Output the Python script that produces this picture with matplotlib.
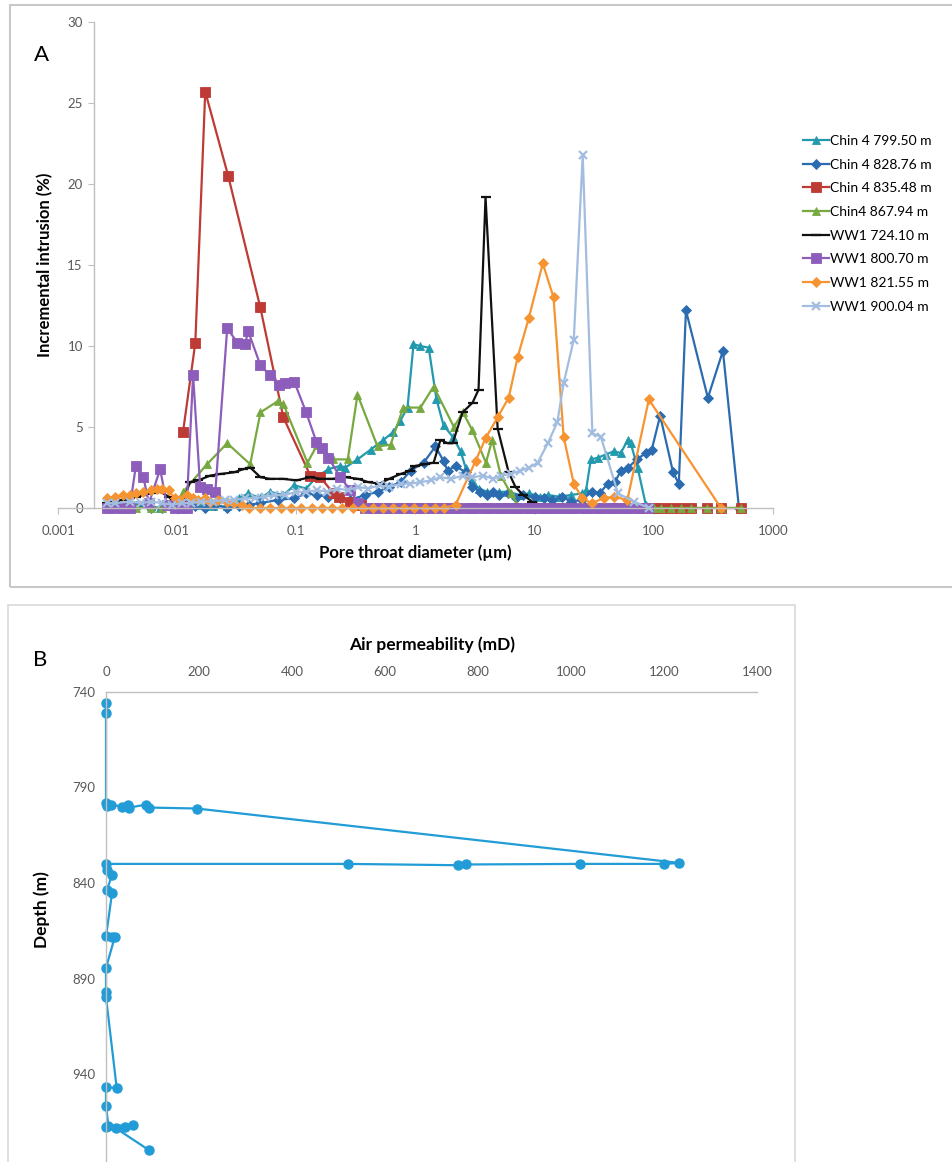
import matplotlib.pyplot as plt
from matplotlib.patches import Rectangle
from matplotlib.ticker import FixedLocator, NullLocator

plt.rcParams['font.family'] = ['Lato', 'DejaVu Sans']

# ---------------- panel A : incremental intrusion vs pore throat diameter
labels_a = ['Chin 4 799.50 m', 'Chin 4 828.76 m', 'Chin 4 835.48 m', 'Chin4 867.94 m',
            'WW1 724.10 m', 'WW1 800.70 m', 'WW1 821.55 m', 'WW1 900.04 m']

chin799_x = [0.0026, 0.0035, 0.0045, 0.006, 0.0072, 0.009, 0.0112, 0.015, 0.02, 0.0263, 0.033,
             0.0395, 0.05, 0.06, 0.078, 0.096, 0.121, 0.147, 0.186, 0.234, 0.258, 0.326, 0.42,
             0.538, 0.653, 0.748, 0.857, 0.962, 1.10, 1.29, 1.50, 1.72, 2.05, 2.39, 2.63, 2.96,
             3.4, 4.0, 5.0, 6.0, 7.5, 9.0, 11, 13, 16, 20, 25, 27, 29.6, 33.8, 39.5, 46, 52.8,
             60.5, 64, 73, 85.7, 100]
chin799_y = [0, 0.1, 0.2, 0.1, 0, 0.1, 0, 0.2, 0.1, 0.1, 0.6,
             0.9, 0.6, 1.0, 0.8, 1.4, 1.2, 1.9, 2.4, 2.6, 2.5, 3.0, 3.6,
             4.2, 4.7, 5.4, 6.2, 10.1, 10.0, 9.9, 6.7, 5.1, 4.4, 3.5, 2.5, 1.7,
             1.2, 1.0, 1.0, 1.0, 0.8, 0.9, 0.7, 0.8, 0.7, 0.8, 0.9, 1.1, 3.0, 3.1, 3.3, 3.5, 3.4,
             4.2, 4.0, 2.5, 0.2, 0]

chin828_x = [0.0026, 0.0035, 0.0045, 0.006, 0.0075, 0.009, 0.0112, 0.014, 0.0172, 0.0209, 0.0263,
             0.033, 0.04, 0.05, 0.07, 0.096, 0.121, 0.15, 0.186, 0.234, 0.28, 0.38, 0.48, 0.6,
             0.75, 0.91, 1.17, 1.47, 1.72, 1.86, 2.17, 2.63, 3.0, 3.5, 4.0, 4.5, 5.0, 6.0, 7.0,
             8.0, 10, 12, 14, 17, 20, 25, 30, 35, 41, 47, 53, 61, 72, 86, 96, 113, 145, 162,
             186, 284, 380, 518]
chin828_y = [0, 0, 0.1, 0, 0, 0.1, 0, 0.1, 0, 0.2, 0,
             0.1, 0.2, 0.3, 0.5, 0.6, 0.9, 0.8, 0.7, 0.6, 0.5, 0.8, 1.0, 1.3,
             1.6, 2.3, 2.8, 3.8, 2.9, 2.3, 2.6, 2.2, 1.3, 1.0, 0.8, 1.0, 0.8, 0.9, 0.6,
             0.8, 0.7, 0.6, 0.5, 0.7, 0.4, 0.5, 1.0, 0.9, 1.5, 1.6, 2.3, 2.5, 3.0, 3.4, 3.6, 5.7, 2.2, 1.5,
             12.2, 6.8, 9.7, 0]

chin835_x = [0.0112, 0.0142, 0.0172, 0.0268, 0.0498, 0.0778, 0.131, 0.159, 0.205, 0.23, 0.28,
             0.35, 0.45, 0.6, 0.8, 1.0, 1.3, 1.7, 2.2, 3.0, 4.0, 5.5, 7.0, 9.0, 12, 16, 20, 27,
             35, 45, 60, 80, 100, 115, 138, 170, 204, 282, 363, 537]
chin835_y = [4.7, 10.2, 25.7, 20.5, 12.4, 5.6, 2.0, 1.9, 0.9, 0.7, 0.4,
             0.2, 0, 0, 0, 0, 0, 0, 0, 0, 0, 0, 0, 0, 0, 0, 0, 0,
             0, 0, 0, 0, 0, 0, 0, 0, 0, 0, 0, 0]

chin867_x = [0.0026, 0.0035, 0.0045, 0.006, 0.0075, 0.0095, 0.0112, 0.0178, 0.0263, 0.041, 0.05,
             0.07, 0.078, 0.124, 0.15, 0.205, 0.27, 0.326, 0.48, 0.617, 0.79, 1.1, 1.42, 2.1,
             2.5, 3.0, 3.9, 4.4, 5.2, 6.3, 7.5, 9, 11, 13, 16, 20, 25, 30, 36, 45, 55, 70, 85,
             100, 115, 138, 170, 204, 282, 363, 537]
chin867_y = [0, 0, 0, 0, 0, 0, 1.0, 2.7, 4.0, 2.7, 5.9,
             6.6, 6.4, 2.8, 3.9, 3.0, 3.0, 7.0, 3.8, 3.9, 6.2, 6.2, 7.5, 5.0,
             5.9, 4.8, 2.8, 4.2, 2.0, 0.9, 0, 0, 0, 0, 0, 0, 0, 0, 0, 0, 0, 0, 0,
             0, 0, 0, 0, 0, 0, 0, 0]

ww724_x = [0.0026, 0.003, 0.0035, 0.004, 0.0045, 0.0052, 0.006, 0.0072, 0.0085, 0.0095, 0.0112,
           0.0128, 0.015, 0.0189, 0.023, 0.03, 0.036, 0.041, 0.05, 0.06, 0.078, 0.1, 0.13, 0.16,
           0.2, 0.26, 0.33, 0.4, 0.5, 0.6, 0.75, 0.9, 1.0, 1.2, 1.42, 1.62, 1.86, 2.05, 2.48,
           3.01, 3.38, 3.87, 4.89, 6.05, 6.9, 8.0, 9.5, 11, 13, 15]
ww724_y = [0.3, 0.4, 0.5, 0.6, 0.7, 0.8, 0.9, 1.0, 0.7, 0.3, 0.4,
           1.6, 1.7, 2.0, 2.1, 2.2, 2.4, 2.5, 1.9, 1.8, 1.8, 1.7, 1.9, 1.8,
           1.8, 1.9, 1.8, 1.6, 1.5, 1.8, 2.1, 2.3, 2.6, 2.7, 2.8, 4.2, 4.0, 4.0, 5.9,
           6.5, 7.3, 19.2, 4.9, 2.2, 1.3, 0.8, 0.4, 0.2, 0.1, 0]

ww800_x = [0.0026, 0.003, 0.0035, 0.004, 0.0045, 0.0052, 0.0058, 0.0072, 0.0082, 0.0095, 0.011,
           0.012, 0.0136, 0.0156, 0.0178, 0.0209, 0.0263, 0.032, 0.037, 0.0395, 0.05, 0.06,
           0.071, 0.08, 0.096, 0.121, 0.147, 0.165, 0.186, 0.234, 0.284, 0.33, 0.38, 0.44, 0.5,
           0.58, 0.67, 0.78, 0.9, 1.05, 1.2, 1.4, 1.6, 1.85, 2.15, 2.5, 2.9, 3.4, 3.9, 4.5, 5.2,
           6.0, 7.0, 8.1, 9.4, 11, 12.7, 14.7, 17, 20, 23, 27, 31, 36, 42, 49, 57, 66, 77, 89]
ww800_y = [0, 0, 0, 0, 2.6, 1.9, 0.3, 2.4, 0.2, 0, 0,
           0, 8.2, 1.3, 1.2, 1.0, 11.1, 10.2, 10.1, 10.9, 8.8, 8.2,
           7.6, 7.7, 7.8, 5.9, 4.1, 3.7, 3.1, 1.9, 1.1, 0.3, 0, 0, 0,
           0, 0, 0, 0, 0, 0, 0, 0, 0, 0, 0, 0, 0, 0, 0, 0,
           0, 0, 0, 0, 0, 0, 0, 0, 0, 0, 0, 0, 0, 0, 0, 0, 0, 0, 0]

ww821_x = [0.0026, 0.003, 0.0035, 0.004, 0.0045, 0.0052, 0.006, 0.0068, 0.0075, 0.0085, 0.0095,
           0.0105, 0.012, 0.0135, 0.015, 0.017, 0.019, 0.022, 0.026, 0.03, 0.035, 0.04, 0.05,
           0.06, 0.075, 0.09, 0.11, 0.135, 0.165, 0.2, 0.24, 0.3, 0.36, 0.44, 0.53, 0.65, 0.8,
           0.97, 1.2, 1.45, 1.75, 2.17, 3.19, 3.87, 4.89, 6.05, 7.19, 8.91, 11.7, 14.4, 17.5,
           21.3, 25, 30, 38, 46, 60, 90.8, 366]
ww821_y = [0.6, 0.7, 0.8, 0.8, 0.9, 1.0, 1.1, 1.2, 1.2, 1.1, 0.6,
           0.5, 0.8, 0.6, 0.5, 0.6, 0.4, 0.5, 0.4, 0.3, 0.2, 0, 0,
           0, 0, 0, 0, 0, 0, 0, 0, 0, 0, 0, 0, 0, 0,
           0, 0, 0, 0, 0.2, 2.9, 4.3, 5.6, 6.8, 9.3, 11.7, 15.1, 13.0, 4.4,
           1.5, 0.6, 0.3, 0.6, 0.7, 0.5, 6.7, 0]

ww900_x = [0.0026, 0.003, 0.004, 0.005, 0.006, 0.0075, 0.009, 0.011, 0.013, 0.016, 0.02, 0.025,
           0.03, 0.037, 0.045, 0.055, 0.065, 0.08, 0.1, 0.12, 0.15, 0.18, 0.22, 0.27, 0.33, 0.4,
           0.5, 0.6, 0.75, 0.9, 1.1, 1.35, 1.62, 2.0, 2.5, 3.0, 3.7, 4.5, 5.2, 6.3, 7.6, 9.0,
           10.6, 12.9, 15.5, 17.5, 21.3, 25.3, 30.5, 35.9, 50, 68, 91]
ww900_y = [0.3, 0.3, 0.4, 0.3, 0.4, 0.3, 0.2, 0.3, 0.3, 0.4, 0.4, 0.5,
           0.5, 0.6, 0.6, 0.7, 0.8, 0.8, 1.0, 1.0, 1.1, 1.0, 1.2, 1.1, 1.3, 1.2,
           1.4, 1.3, 1.5, 1.5, 1.6, 1.7, 1.9, 1.8, 2.0, 1.9, 2.0, 1.8, 2.0, 2.1, 2.3, 2.5,
           2.8, 4.0, 5.3, 7.7, 10.4, 21.8, 4.6, 4.4, 0.9, 0.4, 0]

series_x = [chin799_x, chin828_x, chin835_x, chin867_x, ww724_x, ww800_x, ww821_x, ww900_x]
series_y = [chin799_y, chin828_y, chin835_y, chin867_y, ww724_y, ww800_y, ww821_y, ww900_y]

# ---------------- panel B : air permeability vs depth
depth_m = [745.8, 751.0, 798.0, 799.5, 799.0, 800.0, 799.2, 800.5, 799.0, 800.5, 801.0,
           829.5, 830.0, 830.0, 830.3, 830.7, 830.0, 830.0, 833.0, 835.8, 843.7, 845.2,
           868.0, 868.5, 868.2, 884.5, 897.0, 899.7, 947.3, 947.0, 956.7, 967.0, 967.5,
           966.5, 967.5, 968.5, 979.8]
perm_md = [0, 0, 0, 3, 10, 35, 47, 50, 85, 93, 195,
           1233, 1200, 1020, 775, 758, 520, 0, 2, 13, 2, 13,
           0, 13, 19, 0, 0, 0, 23, 0, 0, 5, 0,
           58, 40, 22, 92]

# ---------------- styles
colors = ['#2399AE', '#2B6CB0', '#BE3A34', '#78A940', '#111111', '#8C5DBA', '#F79432', '#A3BDE0']
markers = ['^', 'D', 's', '^', '_', 's', 'D', 'x']
msizes = [6, 5, 6.5, 6, 7, 6.5, 5, 6]
tick_col = '#595959'

W, H = 953, 1162
fig = plt.figure(figsize=(W / 100, H / 100), dpi=100)

def fx(px):
    return px / W

def fy(py):
    return 1 - py / H

# panel frames
fig.patches.append(Rectangle((fx(10), fy(587)), 1.0, (587 - 5) / H, transform=fig.transFigure,
                             fill=False, edgecolor='#C8C8C8', linewidth=1.5))
fig.patches.append(Rectangle((fx(8), -0.02), (795 - 8) / W, (1162 - 605) / H + 0.02,
                             transform=fig.transFigure, fill=False, edgecolor='#D9D9D9',
                             linewidth=1.2))

# ---- panel A
axA = fig.add_axes([fx(58), fy(508), (773 - 58) / W, (508 - 22) / H])
for i, name in enumerate(labels_a):
    axA.plot(series_x[i], series_y[i], color=colors[i], marker=markers[i], markersize=msizes[i],
             markeredgewidth=1.6 if markers[i] in ('_', 'x') else 0.6,
             markeredgecolor=colors[i], linewidth=1.6, label=name, clip_on=False)
axA.set_xscale('log')
axA.set_xlim(0.001, 1000)
axA.set_ylim(0, 30)
axA.xaxis.set_major_locator(FixedLocator([0.001, 0.01, 0.1, 1, 10, 100, 1000]))
axA.xaxis.set_minor_locator(NullLocator())
axA.set_xticklabels(['0.001', '0.01', '0.1', '1', '10', '100', '1000'])
axA.set_yticks([0, 5, 10, 15, 20, 25, 30])
for s in ['top', 'right']:
    axA.spines[s].set_visible(False)
axA.spines['left'].set_position(('data', 0.002))
for s in ['left', 'bottom']:
    axA.spines[s].set_color('#BFBFBF')
    axA.spines[s].set_linewidth(1.0)
axA.tick_params(axis='both', colors='#BFBFBF', labelcolor=tick_col, labelsize=9.5, length=4)
axA.tick_params(axis='x', pad=8)
axA.tick_params(axis='y', pad=4)
for t in axA.get_yticklabels():
    t.set_bbox(dict(facecolor='white', edgecolor='none', pad=0.5))

fig.text(fx(42), fy(55), 'A', fontsize=16, ha='center', va='center')
fig.text(fx(45), fy(265), 'Incremental intrusion (%)', rotation=90, fontsize=12,
         fontweight='bold', ha='center', va='center')
fig.text(fx(415), fy(553), 'Pore throat diameter (\u00b5m)', fontsize=12, fontweight='bold',
         ha='center', va='center')

leg = axA.legend(loc='upper left', bbox_to_anchor=(fx(796), fy(128)),
                 bbox_transform=fig.transFigure, frameon=False, fontsize=10,
                 handlelength=1.9, handletextpad=0.05, labelspacing=0.84, borderpad=0)

# ---- panel B
axB = fig.add_axes([fx(106), fy(1169.5), (757 - 106) / W, (1169.5 - 692) / H])
axB.plot(perm_md, depth_m, color='#229CD6', marker='o', markersize=6.5, linewidth=1.6,
         clip_on=False)
axB.set_xlim(0, 1400)
axB.set_ylim(990, 740)
axB.set_xticks(range(0, 1401, 200))
axB.set_yticks(range(740, 941, 50))
axB.xaxis.tick_top()
for s in ['bottom', 'right']:
    axB.spines[s].set_visible(False)
for s in ['left', 'top']:
    axB.spines[s].set_color('#BFBFBF')
    axB.spines[s].set_linewidth(1.0)
axB.tick_params(axis='both', length=0, labelcolor=tick_col, labelsize=9.5)
axB.tick_params(axis='x', pad=10)
axB.tick_params(axis='y', pad=8)

fig.text(fx(40), fy(660), 'B', fontsize=16, ha='center', va='center')
fig.text(fx(432), fy(645), 'Air permeability (mD)', fontsize=12.5, fontweight='bold',
         ha='center', va='center')
fig.text(fx(42), fy(910), 'Depth (m)', rotation=90, fontsize=12.5, fontweight='bold',
         ha='center', va='center')

fig.savefig('out.png', dpi=100)
